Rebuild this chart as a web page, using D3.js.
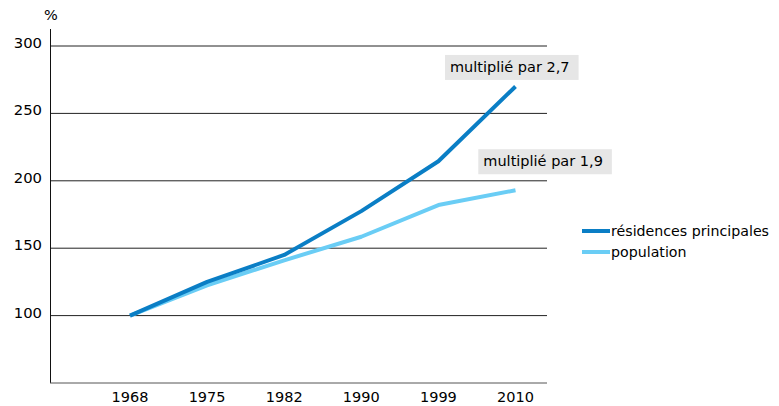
<!DOCTYPE html>
<html>
<head>
<meta charset="utf-8">
<script src="https://cdn.jsdelivr.net/npm/d3@7"></script>
<style>
  html, body { margin: 0; padding: 0; background: #fff; }
  svg { display: block; font-family: "DejaVu Sans", Verdana, sans-serif; }
</style>
</head>
<body>
<svg id="chart" width="779" height="406"></svg>
<script>
const years = ["1968", "1975", "1982", "1990", "1999", "2010"];
const residences = [100, 125, 145, 177.5, 214.5, 270];
const population = [100, 122.5, 141, 158.5, 182, 193];
const yTicks = [100, 150, 200, 250, 300];
const seriesNames = ["résidences principales", "population"];
const seriesColors = ["#0a7ec5", "#6acdf5"];
const notes = ["multiplié par 2,7", "multiplié par 1,9"];

const svg = d3.select("#chart");
const x = d3.scalePoint().domain(years).range([130, 515.5]);
const y = d3.scaleLinear().domain([50, 300]).range([383, 46]);
const left = 50, right = 547;
const ink = "#000";

// gridlines
svg.append("g").selectAll("line").data(yTicks).join("line")
  .attr("x1", left).attr("x2", right)
  .attr("y1", d => y(d)).attr("y2", d => y(d))
  .attr("stroke", "#222").attr("stroke-width", 1);

// y labels
svg.append("g").selectAll("text").data(yTicks).join("text")
  .attr("x", 42).attr("y", d => y(d) + 2)
  .attr("text-anchor", "end")
  .attr("font-size", 14.8).attr("fill", ink)
  .text(d => d);

svg.append("text").attr("x", 51).attr("y", 20).attr("text-anchor", "middle")
  .attr("font-size", 14.5).attr("fill", ink).text("%");

// axes lines
svg.append("line").attr("x1", left + 0.5).attr("x2", left + 0.5)
  .attr("y1", 29).attr("y2", y(50)).attr("stroke", "#111");
svg.append("line").attr("x1", left).attr("x2", right)
  .attr("y1", y(50)).attr("y2", y(50)).attr("stroke", "#555");

// x labels
svg.append("g").selectAll("text").data(years).join("text")
  .attr("x", d => x(d)).attr("y", 402)
  .attr("text-anchor", "middle")
  .attr("font-size", 14.5).attr("fill", ink)
  .text(d => d);

// lines
const line = d3.line().x((d, i) => x(years[i])).y(d => y(d));
[population, residences].forEach((vals, k) => {
  const idx = k === 0 ? 1 : 0;
  svg.append("path").datum(vals).attr("d", line)
    .attr("fill", "none").attr("stroke", seriesColors[idx])
    .attr("stroke-width", 4).attr("stroke-linejoin", "round");
});

// annotations
function note(text, px, py, dx, dyBottom) {
  const g = svg.append("g");
  const rect = g.append("rect").attr("fill", "#e6e6e6");
  const t = g.append("text").attr("font-size", 14.5).attr("fill", ink).text(text);
  const w = t.node().getComputedTextLength();
  const bx = px + dx, bottom = py - dyBottom, h = 25;
  rect.attr("x", bx).attr("y", bottom - h).attr("width", w + 14).attr("height", h);
  t.attr("x", bx + 5).attr("y", bottom - h + 16.7);
}
note(notes[0], x("2010"), y(residences[5]), -70.5, 6.5);
note(notes[1], x("2010"), y(population[5]), -37.2, 16);

// legend
const lg = svg.append("g");
seriesNames.forEach((name, i) => {
  const ly = 231 + i * 21;
  lg.append("line").attr("x1", 582).attr("x2", 610)
    .attr("y1", ly).attr("y2", ly)
    .attr("stroke", seriesColors[i]).attr("stroke-width", 4);
  lg.append("text").attr("x", 611).attr("y", ly + 4.5)
    .attr("font-size", 14.2).attr("fill", ink).text(name);
});
</script>
</body>
</html>
